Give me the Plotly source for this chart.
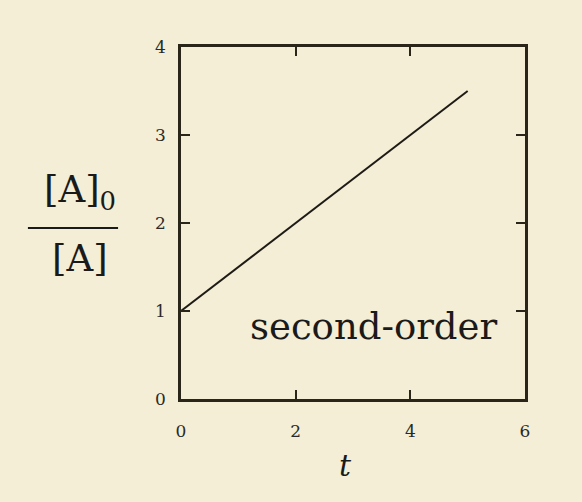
import plotly.graph_objects as go

# second-order kinetics: [A]0/[A] = 1 + k t
t_vals = [0, 5]
ratio_vals = [1, 3.5]
x_ticks = [0, 2, 4, 6]
y_ticks = [0, 1, 2, 3, 4]

BG = "#F3EED5"
INK = "#2A2519"
SERIF = "DejaVu Serif, Liberation Serif, serif"

fig = go.Figure()
fig.add_trace(
    go.Scatter(x=t_vals, y=ratio_vals, mode="lines", line=dict(color="#1E1B16", width=2),
               showlegend=False, hoverinfo="skip")
)

axis_style = dict(
    showline=True, linewidth=2.5, linecolor=INK, mirror="ticks",
    ticks="inside", ticklen=9, tickwidth=2, tickcolor=INK,
    showgrid=False, zeroline=False,
    tickfont=dict(family=SERIF, size=17, color="#2A2A2A"),
)
fig.update_xaxes(range=[0, 6], tickvals=x_ticks, ticklabelstandoff=15, **axis_style)
fig.update_yaxes(range=[0, 4], tickvals=y_ticks, ticklabelstandoff=9, **axis_style)

fig.add_annotation(x=0.561, y=0.205, xref="paper", yref="paper", text="second-order",
                   xanchor="center", yanchor="middle",
                   showarrow=False, font=dict(family=SERIF, size=37, color="#1A1A1A"))
fig.add_annotation(x=0.477, y=-0.19, xref="paper", yref="paper", text="<i>t</i>",
                   xanchor="center", yanchor="middle",
                   showarrow=False, font=dict(family=SERIF, size=30, color="#1A1A1A"))

# fraction label on the left
fig.add_annotation(x=-0.404, y=0.588, xref="paper", yref="paper", text="[A]<sub>0</sub>",
                   xanchor="left", yanchor="middle",
                   showarrow=False, font=dict(family=SERIF, size=37, color="#1A1A1A"))
fig.add_annotation(x=-0.381, y=0.40, xref="paper", yref="paper", text="[A]",
                   xanchor="left", yanchor="middle",
                   showarrow=False, font=dict(family=SERIF, size=37, color="#1A1A1A"))
fig.add_shape(type="line", xref="paper", yref="paper", x0=-0.445, x1=-0.183,
              y0=0.486, y1=0.486, line=dict(color="#1A1A1A", width=2))

fig.update_layout(
    width=582, height=502,
    margin=dict(l=181, r=57, t=47, b=103),
    paper_bgcolor=BG, plot_bgcolor=BG,
)

fig.write_html("out.html", config={"displayModeBar": False},
               post_script="document.body.style.margin='0';")
